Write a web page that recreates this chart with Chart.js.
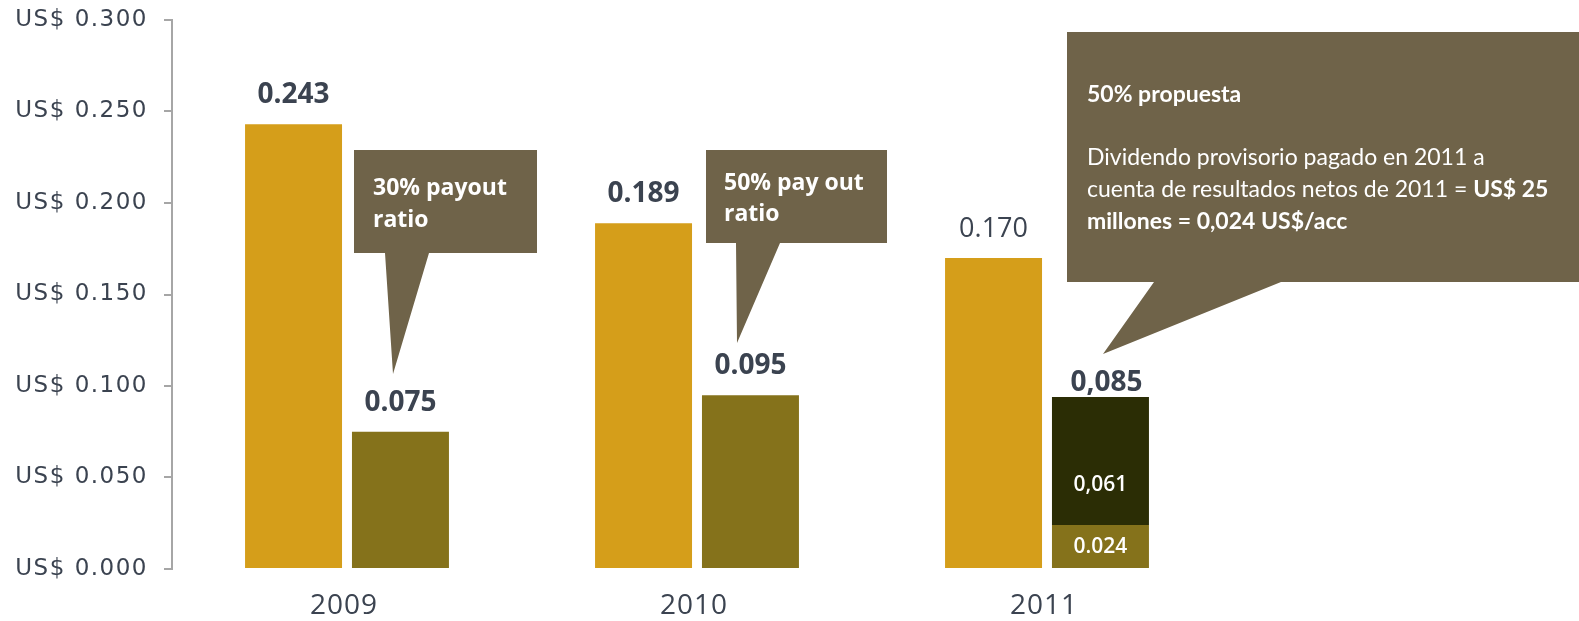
<!DOCTYPE html>
<html>
<head>
<meta charset="utf-8">
<script src="https://cdn.jsdelivr.net/npm/chart.js@4.4.1/dist/chart.umd.min.js"></script>
<style>
  body { margin: 0; background: #fff; }
</style>
</head>
<body>
<canvas id="divChart" width="1579" height="621"></canvas>
<script>
// data
const years = ["2009", "2010", "2011"];
const utilidad = [0.243, 0.189, 0.170];       // gold bars
const dividendo = [0.075, 0.095, 0.024];      // olive bars
const provisorio = [null, null, 0.070];       // dark segment on top of 2011
const utilidadLabels = ["0.243", "0.189", "0.170"];
const dividendoLabels = ["0.075", "0.095", "0.024"];
const provisorioLabels = [null, null, "0,061"];
const totalLabel = "0,085";
const yTicks = [0, 0.05, 0.1, 0.15, 0.2, 0.25, 0.3];

const INK = "#3b4350";
const BOX = "#6f6349";

// callouts: x offsets in px from the category centre, y in axis values
const callouts = [
  {
    cat: 0, left: 7, right: 190, top: 0.229, bottom: 0.1727,
    base: [38, 82], tip: [46, 0.1066], textX: 26,
    lines: [
      { y: 0.2082, parts: [["30% payout", true]] },
      { y: 0.1907, parts: [["ratio", true]] },
    ],
    font: "Open Sans",
    size: 23,
  },
  {
    cat: 1, left: 9, right: 190, top: 0.229, bottom: 0.1781,
    base: [39, 83], tip: [40, 0.1235], textX: 27,
    lines: [
      { y: 0.2109, parts: [["50% pay out", true]] },
      { y: 0.194, parts: [["ratio", true]] },
    ],
    font: "Open Sans",
    size: 23,
  },
  {
    cat: 2, left: 20, right: null, top: 0.2934, bottom: 0.1568,
    base: [107, 234], tip: [56, 0.1175], textX: 40,
    lines: [
      { y: 0.259, parts: [["50% propuesta", true]] },
      { y: 0.2246, parts: [["Dividendo provisorio pagado en 2011 a", false]] },
      { y: 0.2071, parts: [["cuenta de resultados netos de 2011 = ", false], ["US$ 25", true]] },
      { y: 0.1896, parts: [["millones = 0,024 US$/acc", true]] },
    ],
    font: "Lato",
    size: 23,
  },
];

// wide tracking on the y tick labels
const spacingPlugin = {
  id: "spacing",
  beforeDraw(chart) {
    chart.ctx.letterSpacing = "1.5px";
  },
  beforeDatasetsDraw(chart) {
    chart.ctx.letterSpacing = "0px";
  },
};

const labelsPlugin = {
  id: "barLabels",
  afterDatasetsDraw(chart) {
    const ctx = chart.ctx;
    const m0 = chart.getDatasetMeta(0);
    const m1 = chart.getDatasetMeta(1);
    const m2 = chart.getDatasetMeta(2);
    ctx.save();
    ctx.textAlign = "center";
    ctx.textBaseline = "middle";
    ctx.fillStyle = INK;

    m0.data.forEach((bar, i) => {
      ctx.font = (i === 2 ? "400 27px" : "700 28px") + " 'Open Sans'";
      ctx.fillText(utilidadLabels[i], bar.x, bar.y - 29);
    });

    m1.data.forEach((bar, i) => {
      if (provisorio[i] == null) {
        ctx.fillStyle = INK;
        ctx.font = "700 28px 'Open Sans'";
        ctx.fillText(dividendoLabels[i], bar.x, bar.y - 29);
      } else {
        ctx.fillStyle = "#ffffff";
        ctx.font = "600 21px 'Open Sans'";
        ctx.fillText(dividendoLabels[i], bar.x, (bar.y + bar.base) / 2);
      }
    });

    m2.data.forEach((bar, i) => {
      if (provisorioLabels[i] == null) return;
      ctx.fillStyle = "#ffffff";
      ctx.font = "600 21px 'Open Sans'";
      ctx.fillText(provisorioLabels[i], bar.x, bar.base - 40);
      ctx.fillStyle = INK;
      ctx.font = "700 28px 'Open Sans'";
      ctx.fillText(totalLabel, bar.x + 6, bar.y - 14);
    });
    ctx.restore();
  },
  afterDraw(chart) {
    const ctx = chart.ctx;
    const xs = chart.scales.x;
    const ys = chart.scales.y;
    ctx.save();

    // year labels under the groups
    ctx.fillStyle = INK;
    ctx.textAlign = "center";
    ctx.textBaseline = "middle";
    ctx.letterSpacing = "1px";
    ctx.font = "400 28px 'Open Sans'";
    years.forEach((yr, i) => {
      ctx.fillText(yr, xs.getPixelForValue(i) - 3, ys.bottom + 37);
    });
    ctx.letterSpacing = "0px";

    callouts.forEach((c) => {
      const cx = xs.getPixelForValue(c.cat);
      const L = cx + c.left;
      const R = c.right == null ? chart.width : cx + c.right;
      const T = ys.getPixelForValue(c.top);
      const B = ys.getPixelForValue(c.bottom);
      ctx.fillStyle = BOX;
      ctx.beginPath();
      ctx.moveTo(L, T);
      ctx.lineTo(R, T);
      ctx.lineTo(R, B);
      ctx.lineTo(cx + c.base[1], B);
      ctx.lineTo(cx + c.tip[0], ys.getPixelForValue(c.tip[1]));
      ctx.lineTo(cx + c.base[0], B);
      ctx.lineTo(L, B);
      ctx.closePath();
      ctx.fill();

      ctx.fillStyle = "#ffffff";
      ctx.textAlign = "left";
      ctx.textBaseline = "middle";
      c.lines.forEach((line) => {
        let x = cx + c.textX;
        const y = ys.getPixelForValue(line.y);
        line.parts.forEach(([txt, bold]) => {
          ctx.font = (bold ? "700 " : "400 ") + c.size + "px '" + c.font + "'";
          ctx.fillText(txt, x, y);
          x += ctx.measureText(txt).width;
        });
      });
    });
    ctx.restore();
  },
};

new Chart(document.getElementById("divChart"), {
  type: "bar",
  data: {
    labels: years,
    datasets: [
      { data: utilidad, backgroundColor: "#d59e1a", stack: "a" },
      { data: dividendo, backgroundColor: "#85721b", stack: "b" },
      { data: provisorio, backgroundColor: "#2b2d05", stack: "b" },
    ],
  },
  options: {
    responsive: false,
    animation: false,
    events: [],
    categoryPercentage: 0.611,
    barPercentage: 0.907,
    layout: { padding: { top: 20, right: 357, left: 0, bottom: 0 } },
    plugins: {
      legend: { display: false },
      tooltip: { enabled: false },
    },
    scales: {
      x: {
        stacked: true,
        grid: { display: false },
        border: { display: false },
        ticks: { display: false },
        afterFit(scale) { scale.height = 52; },
      },
      y: {
        stacked: true,
        min: 0,
        max: 0.3,
        afterFit(scale) {
          scale.width = 172;
          scale.paddingTop = 0;
          scale.paddingBottom = 0;
        },
        afterBuildTicks(scale) { scale.ticks = yTicks.map((v) => ({ value: v })); },
        grid: {
          drawOnChartArea: false,
          drawTicks: true,
          tickLength: 8,
          color: "#a6a6a6",
          lineWidth: 2,
        },
        border: { display: true, color: "#a6a6a6", width: 2 },
        ticks: {
          color: INK,
          padding: 16,
          font: { family: "DejaVu Sans", size: 23 },
          callback: (v) => "US$ " + Number(v).toFixed(3),
        },
      },
    },
  },
  plugins: [spacingPlugin, labelsPlugin],
});
</script>
</body>
</html>
